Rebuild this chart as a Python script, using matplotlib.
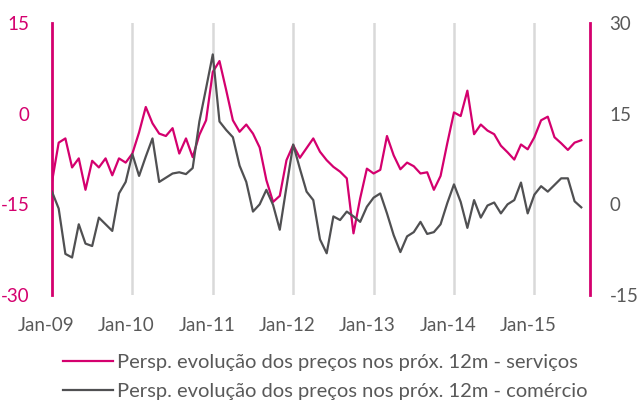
import matplotlib
matplotlib.use("Agg")
import matplotlib.pyplot as plt
import matplotlib.transforms as mtransforms
from matplotlib.lines import Line2D
import numpy as np

# monthly, Jan-09 .. Aug-15
servicos = [-11.3, -4.8, -4.1, -8.9, -7.4, -12.6, -7.8, -8.9, -7.4, -10.2, -7.4, -8.1,
            -6.6, -3.1, 1.1, -1.6, -3.3, -3.7, -2.4, -6.6, -4.1, -7.2, -3.5, -1.1,
            6.9, 8.7, 3.9, -1.1, -3.0, -1.8, -3.3, -5.6, -11.0, -14.6, -13.6, -7.7,
            -5.2, -7.3, -5.7, -4.1, -6.3, -7.7, -8.8, -9.6, -10.7, -19.8, -14.0, -9.1,
            -9.9, -9.3, -3.7, -6.9, -9.2, -8.1, -8.7, -9.9, -9.7, -12.6, -10.3, -4.9,
            0.2, -0.4, 3.8, -3.4, -1.8, -2.8, -3.4, -5.3, -6.4, -7.6, -5.1, -5.9,
            -3.9, -1.1, -0.5, -3.9, -4.9, -6.0, -4.8, -4.4]
comercio = [2.1, -0.7, -8.2, -8.8, -3.3, -6.5, -6.9, -2.2, -3.3, -4.4, 1.8, 3.7,
            8.3, 4.7, 7.9, 10.9, 3.7, 4.4, 5.1, 5.3, 5.0, 6.0, 13.7, 19.2,
            24.8, 13.7, 12.3, 11.1, 6.4, 3.7, -1.2, 0.0, 2.4, -0.1, -4.2, 2.9,
            9.9, 5.9, 2.1, 0.7, -5.8, -8.1, -2.0, -2.6, -1.2, -2.0, -2.9, -0.4,
            1.1, 1.8, -1.5, -5.1, -7.9, -5.3, -4.6, -2.9, -4.9, -4.6, -3.3, 0.2,
            3.3, 0.4, -3.9, 0.7, -2.2, -0.2, 0.3, -1.5, 0.0, 0.7, 3.6, -1.5,
            1.6, 3.0, 2.1, 3.2, 4.3, 4.3, 0.5, -0.5]
year_labels = ["Jan-09", "Jan-10", "Jan-11", "Jan-12", "Jan-13", "Jan-14", "Jan-15"]
label_serv = "Persp. evolução dos preços nos próx. 12m - serviços"
label_com = "Persp. evolução dos preços nos próx. 12m - comércio"

MAGENTA = "#D4006E"
DARK = "#505052"
GREY_TXT = "#595959"
plt.rcParams["font.family"] = ["Lato", "DejaVu Sans"]
plt.rcParams["axes.unicode_minus"] = False

x = np.arange(len(servicos))
fig = plt.figure(figsize=(6.37, 4.03), dpi=100)
ax = fig.add_axes([0.0816, 0.268, 0.8446, 0.675])
ax2 = ax.twinx()

for xi in range(12, len(servicos), 12):
    ax.axvline(xi, color="#D9D9D9", lw=1.8, zorder=0)

ax.plot(x, servicos, color=MAGENTA, lw=1.6, zorder=3)
ax2.plot(x, comercio, color=DARK, lw=1.6, zorder=3)

ax.set_xlim(0, 80.3)
ax.set_ylim(-30, 15)
ax2.set_ylim(-15, 30)
ax.set_yticks([-30, -15, 0, 15])
ax2.set_yticks([-15, 0, 15, 30])
ax.set_xticks(range(0, 84, 12))
ax.set_xticklabels(year_labels)

for a in (ax, ax2):
    for s in ("top", "bottom"):
        a.spines[s].set_visible(False)
ax.spines["left"].set_color(MAGENTA)
ax.spines["left"].set_linewidth(2)
ax.spines["right"].set_visible(False)
ax2.spines["left"].set_visible(False)
ax2.spines["right"].set_color(MAGENTA)
ax2.spines["right"].set_linewidth(2)

ax.tick_params(axis="y", length=0, pad=16, labelsize=13.5, labelcolor=MAGENTA)
ax2.tick_params(axis="y", length=0, pad=14, labelsize=13.5, labelcolor=GREY_TXT)
ax.tick_params(axis="x", length=0, pad=16, labelsize=13.5, labelcolor=GREY_TXT)

# x labels sit a little left of their gridline
shift = mtransforms.ScaledTranslation(-6 / 100, 0, fig.dpi_scale_trans)
for lbl in ax.get_xticklabels():
    lbl.set_transform(lbl.get_transform() + shift)

handles = [Line2D([], [], color=MAGENTA, lw=1.6), Line2D([], [], color=DARK, lw=1.6)]
fig.legend(handles, [label_serv, label_com], loc="lower center", bbox_to_anchor=(0.511, -0.038),
           ncol=1, frameon=False, fontsize=14.5, labelcolor=GREY_TXT,
           handlelength=2.5, handletextpad=0.2, labelspacing=0.62)

fig.savefig("out.png", dpi=100)
